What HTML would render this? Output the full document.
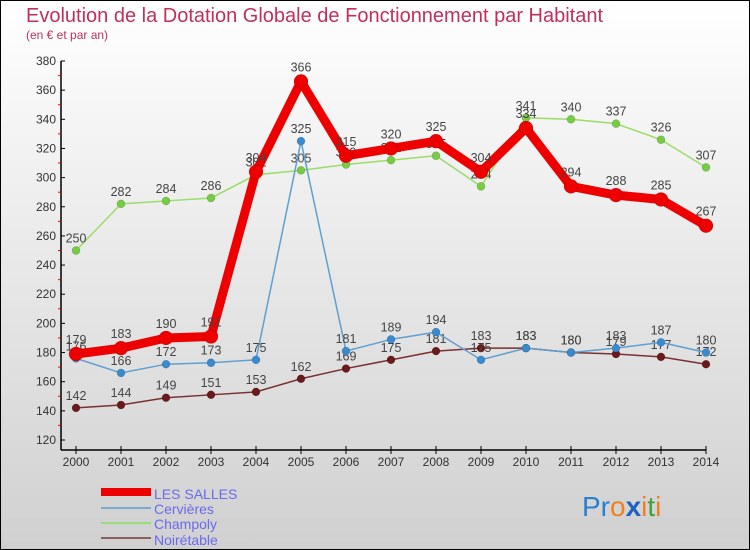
<!DOCTYPE html>
<html><head><meta charset="utf-8"><style>
body{margin:0;}
svg{display:block;font-family:"Liberation Sans","DejaVu Sans",sans-serif;}
</style></head><body>
<svg id="chart" width="750" height="550" viewBox="0 0 750 550">
<defs><linearGradient id="bg" x1="0" y1="0" x2="0" y2="1"><stop offset="0" stop-color="#ffffff"/><stop offset="1" stop-color="#d0d0d0"/></linearGradient></defs>
<rect x="0.5" y="0.5" width="749" height="549" fill="url(#bg)" stroke="#000"/>
<text x="26" y="22" font-size="20" fill="#c0305a">Evolution de la Dotation Globale de Fonctionnement par Habitant</text>
<text x="26" y="39" font-size="12" fill="#c0305a">(en € et par an)</text>
<g id="axes"></g><g id="series"></g>
<g>
<rect x="101" y="488" width="50" height="8" fill="#e00"/>
<text x="154" y="499" font-size="14" fill="#6a6af0">LES SALLES</text>
<line x1="101" y1="508" x2="151" y2="508" stroke="#7aaad0" stroke-width="2"/>
<text x="154" y="514" font-size="14" fill="#6a6af0">Cervières</text>
<line x1="101" y1="523" x2="151" y2="523" stroke="#99dd77" stroke-width="2"/>
<text x="154" y="529" font-size="14" fill="#6a6af0">Champoly</text>
<line x1="101" y1="538" x2="151" y2="538" stroke="#8a6060" stroke-width="2"/>
<text x="154" y="545" font-size="14" fill="#6a6af0">Noirétable</text>
</g>
<text x="582" y="516" font-size="28"><tspan fill="#2a7fd0">Pr</tspan><tspan fill="#f08020">o</tspan><tspan fill="#2060c0" font-weight="bold">x</tspan><tspan fill="#f08020">i</tspan><tspan fill="#40a040">t</tspan><tspan fill="#f08020">i</tspan></text>
</svg>
<script>
const years=[2000,2001,2002,2003,2004,2005,2006,2007,2008,2009,2010,2011,2012,2013,2014];
const lesSalles=[179,183,190,191,304,366,315,320,325,304,334,294,288,285,267];
const cervieres=[176,166,172,173,175,325,181,189,194,175,183,180,183,187,180];
const champoly=[250,282,284,286,302,305,309,312,315,294,341,340,337,326,307];
const noiretable=[142,144,149,151,153,162,169,175,181,183,183,180,179,177,172];
const yTicks=[120,140,160,180,200,220,240,260,280,300,320,340,360,380];
const NS="http://www.w3.org/2000/svg";
function xs(i){return 76+i*45;}
function ys(v){return 61+(380-v)*379/260;}
function mk(tag,attrs,parent){const e=document.createElementNS(NS,tag);for(const k in attrs)e.setAttribute(k,attrs[k]);parent.appendChild(e);return e;}
const ax=document.getElementById('axes');
let l=mk('line',{x1:61,y1:61,x2:61,y2:450,stroke:'#000','stroke-width':1.5},ax);


l=mk('line',{x1:61,y1:450,x2:706,y2:450,stroke:'#000','stroke-width':1.5},ax);


yTicks.forEach(v=>{
  const y=ys(v);
  mk('line',{x1:61,y1:y,x2:65,y2:y,stroke:'#000'},ax);
  if(v<380)mk('line',{x1:58,y1:ys(v+10),x2:61,y2:ys(v+10),stroke:'#e00'},ax);
  const t=mk('text',{x:56,y:y+4,'font-size':12,fill:'#333','text-anchor':'end'},ax);
  t.textContent=v;
  
  
});
years.forEach((yr,i)=>{
  const x=xs(i);
  mk('line',{x1:x,y1:446,x2:x,y2:454,stroke:'#000'},ax);
  const t=mk('text',{x:x,y:466,'font-size':12,fill:'#333','text-anchor':'middle'},ax);
  t.textContent=yr;
  
  
});
const sg=document.getElementById('series');
function draw(name,vals,color,dot,w,r){
  const g=mk('g',{},sg);
  
  
  const p=mk('polyline',{points:vals.map((v,i)=>xs(i)+','+ys(v)).join(' '),fill:'none',stroke:color,'stroke-width':w,'stroke-linejoin':'round'},g);
  
  
  vals.forEach((v,i)=>{
    const c=mk('circle',{cx:xs(i),cy:ys(v),r:r,fill:dot,stroke:'rgba(0,0,0,0.25)','stroke-width':0.5},g);
    
    
    const t=mk('text',{x:xs(i),y:ys(v)-8-(r>5?2:0),'font-size':12.5,fill:'#444','text-anchor':'middle'},g);
    t.textContent=v;
    
    
  });
}
draw('noiretable',noiretable,'#7a3030','#6a1a1a',1.5,4);
draw('champoly',champoly,'#99dd66','#77cc44',1.5,4);
draw('cervieres',cervieres,'#5fa0d0','#3a8ad0',1.5,4);
draw('les-salles',lesSalles,'#ee0000','#ee0000',9,7);
</script>
</body></html>
